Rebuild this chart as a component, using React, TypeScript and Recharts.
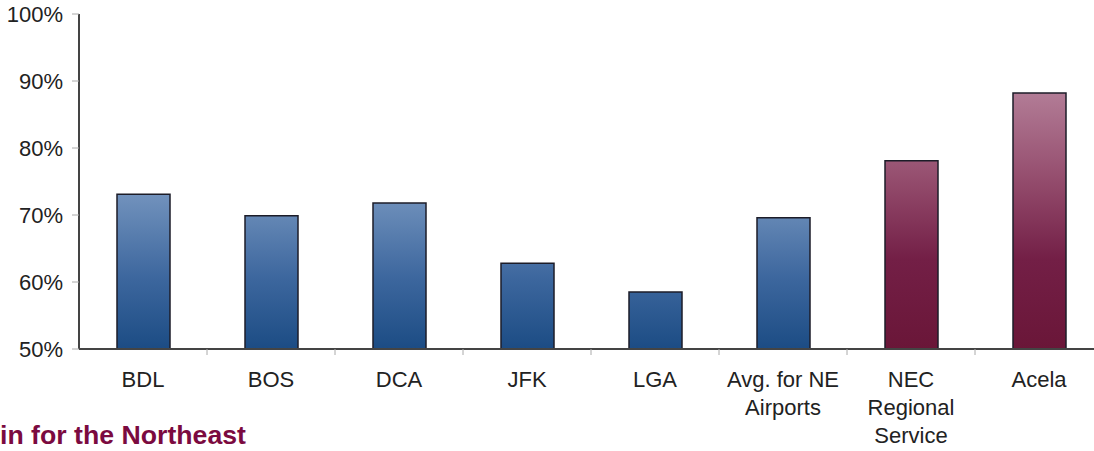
import React from "react";
import { BarChart, Bar, XAxis, YAxis, Cell } from "recharts";

const categories = [
  "BDL",
  "BOS",
  "DCA",
  "JFK",
  "LGA",
  "Avg. for NE Airports",
  "NEC Regional Service",
  "Acela",
];
const tickLabels = [
  ["BDL"],
  ["BOS"],
  ["DCA"],
  ["JFK"],
  ["LGA"],
  ["Avg. for NE", "Airports"],
  ["NEC", "Regional", "Service"],
  ["Acela"],
];
const shares = [73.1, 69.9, 71.8, 62.8, 58.5, 69.6, 78.1, 88.2];
const modes = ["air", "air", "air", "air", "air", "air", "rail", "rail"];
const yTicks = [50, 60, 70, 80, 90, 100];
const footnote = "in for the Northeast";

const data = categories.map((name, i) => ({
  name,
  share: shares[i],
  mode: modes[i],
}));

const font = "'Liberation Sans', Arial, sans-serif";

// chart layout
const chartW = 1110;
const margin = { top: 14, right: 7, bottom: 2, left: 0 };
const yAxisW = 79;
const band = (chartW - margin.left - margin.right - yAxisW) / categories.length;

const CategoryTick = (props: any) => {
  const { x, y, index } = props;
  const lines = tickLabels[index] || [];
  return (
    <g>
      {index > 0 && (
        <line x1={x - band / 2} x2={x - band / 2} y1={y} y2={y + 6} stroke="#aaa" strokeWidth={1} />
      )}
      <text x={x} y={y} textAnchor="middle" fill="#222" fontSize={22} fontFamily={font}>
        {lines.map((l, i) => (
          <tspan key={i} x={x} dy={i === 0 ? 38 : 28}>
            {l}
          </tspan>
        ))}
      </text>
    </g>
  );
};

const App = () => {
  return (
    <div
      style={{
        position: "absolute",
        left: 0,
        top: 0,
        width: 1094,
        height: 451,
        overflow: "hidden",
        background: "#fff",
      }}
    >
      <BarChart width={chartW} height={451} data={data} margin={margin} barSize={53}>
        <defs>
          <linearGradient id="airFill" gradientUnits="userSpaceOnUse" x1="0" y1="190" x2="0" y2="349">
            <stop offset="0" stopColor="#7494be" />
            <stop offset="0.55" stopColor="#3d679e" />
            <stop offset="1" stopColor="#1c4c84" />
          </linearGradient>
          <linearGradient id="railFill" gradientUnits="userSpaceOnUse" x1="0" y1="93" x2="0" y2="349">
            <stop offset="0" stopColor="#b27c96" />
            <stop offset="0.3" stopColor="#985272" />
            <stop offset="0.65" stopColor="#731f46" />
            <stop offset="1" stopColor="#6a1638" />
          </linearGradient>
        </defs>
        <XAxis
          dataKey="name"
          interval={0}
          height={100}
          tickSize={0}
          tickMargin={0}
          tickLine={false}
          axisLine={{ stroke: "#444", strokeWidth: 2 }}
          tick={<CategoryTick />}
        />
        <YAxis
          domain={[50, 100]}
          ticks={yTicks}
          width={yAxisW}
          tickFormatter={(v: number) => `${v}%`}
          tick={{ fill: "#222", fontSize: 22, fontFamily: font }}
          tickLine={{ stroke: "#aaa", strokeWidth: 1 }}
          tickSize={7}
          tickMargin={9}
          axisLine={{ stroke: "#444", strokeWidth: 2 }}
          allowDataOverflow
        />
        <Bar dataKey="share" stroke="#1c1c28" strokeWidth={1.5} isAnimationActive={false}>
          {data.map((d, i) => (
            <Cell key={i} fill={d.mode === "rail" ? "url(#railFill)" : "url(#airFill)"} />
          ))}
        </Bar>
      </BarChart>
      <svg
        width={1094}
        height={451}
        style={{ position: "absolute", left: 0, top: 0, pointerEvents: "none" }}
      >
        <text
          x={0}
          y={444}
          fontSize={25}
          fontWeight="bold"
          fontFamily={font}
          fill="#7b0a40"
          textLength={246}
          lengthAdjust="spacingAndGlyphs"
        >
          {footnote}
        </text>
      </svg>
    </div>
  );
};

export default App;
